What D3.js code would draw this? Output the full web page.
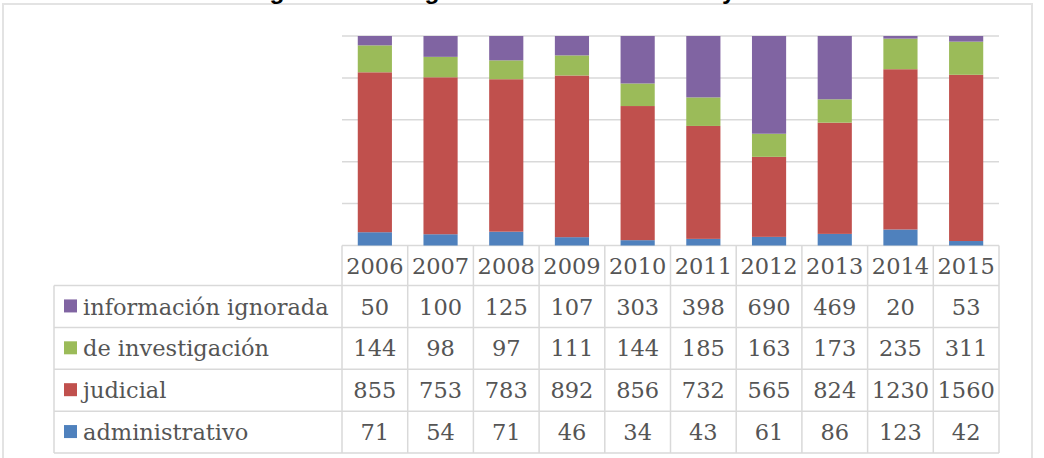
<!DOCTYPE html>
<html>
<head>
<meta charset="utf-8">
<script src="https://cdn.jsdelivr.net/npm/d3@7"></script>
<style>
  body { margin: 0; background: #fff; }
  svg { display: block; }
</style>
</head>
<body>
<svg id="chart" width="1044" height="458"></svg>
<script>
// datos
let years = ["2006", "2007", "2008", "2009", "2010", "2011", "2012", "2013", "2014", "2015"];
let seriesNames = ["administrativo", "judicial", "de investigación", "información ignorada"];
let administrativo = [71, 54, 71, 46, 34, 43, 61, 86, 123, 42];
let judicial = [855, 753, 783, 892, 856, 732, 565, 824, 1230, 1560];
let investigacion = [144, 98, 97, 111, 144, 185, 163, 173, 235, 311];
let ignorada = [50, 100, 125, 107, 303, 398, 690, 469, 20, 53];
let colors = ["#4F81BD", "#C0504D", "#9BBB59", "#8064A2"];
let gridTicks = [0, 0.2, 0.4, 0.6, 0.8, 1];
let titleText = "Averiguaciones según la situación del caso y año";

let valuesBySeries = [administrativo, judicial, investigacion, ignorada];
let rows = years.map(function(y, i) {
    let r = { year: y };
    seriesNames.forEach(function(s, k) { r[s] = valuesBySeries[k][i]; });
    return r;
});

let svg = d3.select("#chart");
let textColor = "#555555";
let lineColor = "#D9D9D9";

let plotLeft = 342, plotRight = 999, plotTop = 36, plotBottom = 245.5;

// marco del grafico
svg.append("rect")
    .attr("x", 3).attr("y", 4)
    .attr("width", 1029).attr("height", 500)
    .attr("fill", "none")
    .attr("stroke", "#E3E3E3")
    .attr("stroke-width", 2);

// titulo (cortado arriba, solo se ven los trazos descendentes)
let title = svg.append("text")
    .attr("y", -1.5)
    .attr("font-family", "Liberation Sans, Arial, sans-serif")
    .attr("font-weight", "bold")
    .attr("font-size", 20)
    .attr("fill", "#000")
    .text(titleText);
let gIdx = titleText.indexOf("g");
let yIdx = titleText.lastIndexOf("y");
let node = title.node();
let e1 = node.getExtentOfChar(gIdx), e2 = node.getExtentOfChar(yIdx);
let c1 = e1.x + e1.width / 2, c2 = e2.x + e2.width / 2;
let fs = 20 * (729 - 277) / (c2 - c1);
title.attr("font-size", fs);
e1 = node.getExtentOfChar(gIdx);
title.attr("x", 277 - (e1.x + e1.width / 2));

let x = d3.scaleBand()
    .domain(years)
    .range([plotLeft, plotRight])
    .paddingInner(0.48)
    .paddingOuter(0.24);

let xCol = d3.scaleBand()
    .domain(years)
    .range([plotLeft, plotRight]);

let y = d3.scaleLinear()
    .domain([0, 1])
    .range([plotBottom, plotTop]);

// lineas de cuadricula
svg.append("g")
    .selectAll("line")
    .data(gridTicks)
    .join("line")
    .attr("x1", plotLeft).attr("x2", plotRight)
    .attr("y1", d => y(d)).attr("y2", d => y(d))
    .attr("stroke", lineColor)
    .attr("stroke-width", 1.5);

let stacked = d3.stack()
    .keys(seriesNames)
    .offset(d3.stackOffsetExpand)(rows);

svg.append("g")
    .selectAll("g")
    .data(stacked)
    .join("g")
    .attr("fill", (d, i) => colors[i])
    .selectAll("rect")
    .data(d => d)
    .join("rect")
    .attr("x", d => x(d.data.year))
    .attr("width", x.bandwidth())
    .attr("y", d => y(d[1]))
    .attr("height", d => y(d[0]) - y(d[1]));

// tabla de datos
let tableLeft = 54;
let headerTop = 245.5, headerBottom = 285.5;
let rowH = (453 - headerBottom) / 4;
let tableRows = seriesNames.slice().reverse();
let tableColors = colors.slice().reverse();
let tableValues = valuesBySeries.slice().reverse();

let tbl = svg.append("g");
let font = "DejaVu Serif, serif";
let fontSize = 22.5;

// lineas verticales de la cabecera y filas
let colEdges = years.map(yr => xCol(yr)).concat([plotRight]);
tbl.selectAll("line.v")
    .data(colEdges)
    .join("line")
    .attr("class", "v")
    .attr("x1", d => d).attr("x2", d => d)
    .attr("y1", headerTop).attr("y2", 453)
    .attr("stroke", lineColor).attr("stroke-width", 1.5);

tbl.append("line")
    .attr("x1", tableLeft).attr("x2", tableLeft)
    .attr("y1", headerBottom).attr("y2", 453)
    .attr("stroke", lineColor).attr("stroke-width", 1.5);

let hLines = d3.range(5).map(i => headerBottom + i * rowH);
tbl.selectAll("line.h")
    .data(hLines)
    .join("line")
    .attr("class", "h")
    .attr("x1", tableLeft).attr("x2", plotRight)
    .attr("y1", d => d).attr("y2", d => d)
    .attr("stroke", lineColor).attr("stroke-width", 1.5);

// cabecera de años
tbl.selectAll("text.year")
    .data(years)
    .join("text")
    .attr("class", "year")
    .attr("x", d => xCol(d) + xCol.bandwidth() / 2)
    .attr("y", (headerTop + headerBottom) / 2)
    .attr("dy", "0.36em")
    .attr("text-anchor", "middle")
    .attr("font-family", font)
    .attr("font-size", fontSize)
    .attr("fill", textColor)
    .text(d => d);

// filas
let rowG = tbl.selectAll("g.row")
    .data(tableRows)
    .join("g")
    .attr("class", "row")
    .attr("transform", (d, i) => "translate(0," + (headerBottom + i * rowH + rowH / 2) + ")");

rowG.append("rect")
    .attr("x", 64).attr("y", -7)
    .attr("width", 13).attr("height", 13)
    .attr("fill", (d, i) => tableColors[i]);

rowG.append("text")
    .attr("x", 83)
    .attr("dy", "0.36em")
    .attr("font-family", font)
    .attr("font-size", fontSize)
    .attr("fill", textColor)
    .text(d => d);

rowG.each(function(d, i) {
    d3.select(this).selectAll("text.val")
        .data(tableValues[i])
        .join("text")
        .attr("class", "val")
        .attr("x", (v, j) => xCol(years[j]) + xCol.bandwidth() / 2)
        .attr("dy", "0.36em")
        .attr("text-anchor", "middle")
        .attr("font-family", font)
        .attr("font-size", fontSize)
        .attr("fill", textColor)
        .text(v => v);
});
</script>
</body>
</html>
